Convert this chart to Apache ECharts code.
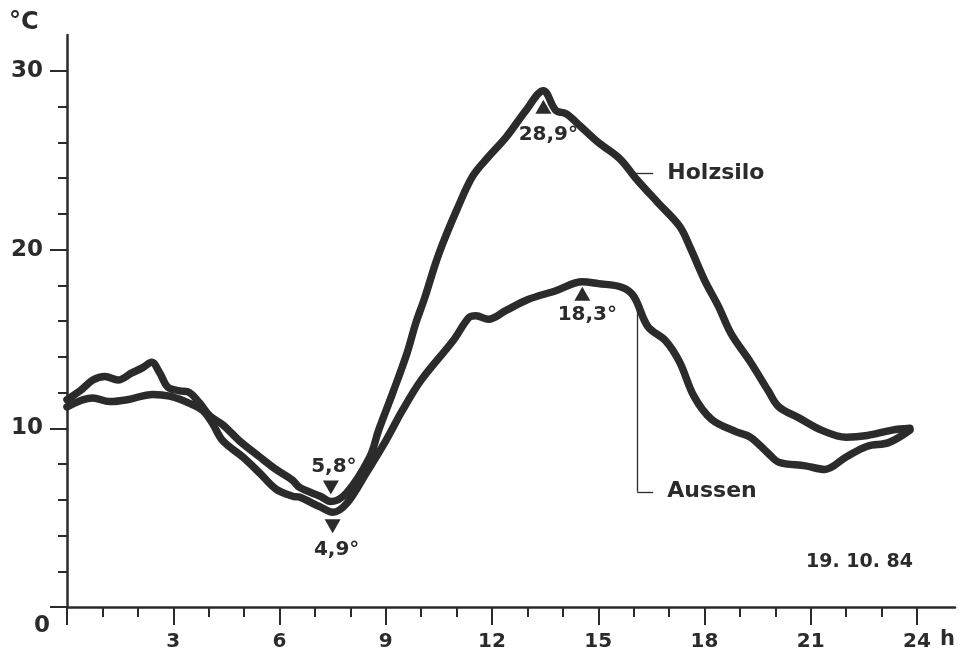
<!DOCTYPE html>
<html>
<head>
<meta charset="utf-8">
<script src="https://cdn.jsdelivr.net/npm/echarts@6/dist/echarts.min.js"></script>
<style>
html,body{margin:0;padding:0;background:#fff;}
#c{width:960px;height:653px;}
</style>
</head>
<body>
<div id="c"></div>
<script>
// ---- data (hours, °C) ----
const holzHours = [0.0,0.37,0.73,1.07,1.44,1.83,2.14,2.39,2.62,2.85,3.18,3.46,3.75,4.03,4.4,4.87,5.44,5.9,6.37,6.56,7.15,7.45,7.9,8.55,8.8,9.2,9.6,9.85,10.1,10.4,10.6,11.0,11.45,11.9,12.4,12.96,13.45,13.8,14.1,14.5,15.0,15.6,16.1,16.7,17.3,17.6,18.0,18.4,18.75,19.3,19.8,20.1,20.65,21.3,22.0,22.6,23.3,23.8];
const holzValues = [11.6,12.1,12.7,12.9,12.7,13.1,13.4,13.7,13.1,12.3,12.1,12.0,11.4,10.7,10.2,9.3,8.4,7.7,7.1,6.7,6.2,5.9,6.4,8.4,9.9,12.0,14.2,15.9,17.3,19.2,20.3,22.2,24.1,25.2,26.3,27.8,28.9,27.8,27.6,26.9,26.0,25.1,23.9,22.6,21.3,20.1,18.3,16.8,15.3,13.7,12.1,11.2,10.6,9.9,9.5,9.6,9.9,10.0];
const aussenHours = [0.0,0.73,1.2,1.7,2.42,2.9,3.46,3.83,4.1,4.4,4.96,5.44,5.9,6.37,6.56,7.15,7.5,7.9,8.45,9.0,9.47,10.0,10.9,11.35,11.55,11.9,12.4,13.0,13.8,14.55,15.0,15.66,16.0,16.4,16.9,17.3,17.7,18.2,18.9,19.3,19.8,20.1,20.85,21.4,22.0,22.6,23.2,23.8];
const aussenValues = [11.2,11.7,11.5,11.6,11.9,11.8,11.4,11.0,10.3,9.3,8.4,7.5,6.6,6.2,6.15,5.6,5.3,5.8,7.5,9.3,11.0,12.7,14.9,16.2,16.3,16.1,16.6,17.2,17.7,18.2,18.1,17.9,17.4,15.7,14.9,13.7,11.8,10.5,9.8,9.5,8.6,8.1,7.9,7.7,8.4,9.0,9.2,9.9];
const xTickLabels = [3,6,9,12,15,18,21,24];
const yTickLabels = [10,20,30];
// extreme-value annotations: [hour, value, text]
const holzMin = [7.45, 5.9, '5,8°'];
const holzMax = [13.45, 28.9, '28,9°'];
const aussenMin = [7.5, 5.3, '4,9°'];
const aussenMax = [14.55, 18.2, '18,3°'];
const seriesNames = ['Holzsilo', 'Aussen'];
const dateText = '19. 10. 84';

const INK = '#2b2b2b';
const FONT = '"DejaVu Sans", Verdana, sans-serif';
const zip = (a, b) => a.map((x, i) => [x, b[i]]);
const downTri = 'path://M0,0 L10,0 L5,9 Z';
const upTri = 'path://M5,0 L10,9 L0,9 Z';
const txt = (size) => ({fontFamily: FONT, fontWeight: 'bold', fontSize: size, color: INK});

function tri(pt, path, dy) {
  return {coord: [pt[0], pt[1]], symbol: path, symbolSize: [16, 14], symbolOffset: [0, dy],
          itemStyle: {color: INK}, label: {show: false}};
}
function lab(pt, text, dx, dy, align, size) {
  return {coord: [pt[0], pt[1]], symbol: 'circle', symbolSize: 0,
          label: Object.assign({show: true, position: 'inside', formatter: text, offset: [dx, dy], align: align || 'center'}, txt(size || 20))};
}

const chart = echarts.init(document.getElementById('c'), null, {renderer: 'canvas'});
const option = {
  animation: false,
  backgroundColor: '#fff',
  grid: [
    {left: 67, right: 43, top: 71, bottom: 46, outerBoundsMode: 'none'},
    {left: 67, right: 5, top: 35, bottom: 46, outerBoundsMode: 'none'}
  ],
  xAxis: [
    {type: 'value', gridIndex: 0, position: 'bottom', min: 0, max: 24, interval: 1,
     axisLine: {show: false, onZero: false}, splitLine: {show: false},
     axisTick: {show: true, length: 10, lineStyle: {color: INK, width: 2}},
     axisLabel: {show: false}},
    {type: 'value', gridIndex: 0, position: 'bottom', min: 0, max: 24, interval: 3,
     axisLine: {show: false, onZero: false}, splitLine: {show: false},
     axisTick: {show: true, length: 18, lineStyle: {color: INK, width: 2}},
     axisLabel: Object.assign({show: true, margin: 25,
       formatter: v => xTickLabels.indexOf(v) >= 0 ? String(v) : ''}, txt(20))},
    {type: 'value', gridIndex: 1, position: 'bottom', min: 0, max: 1,
     axisLine: {show: true, onZero: false, lineStyle: {color: INK, width: 2.5}},
     axisTick: {show: false}, axisLabel: {show: false}, splitLine: {show: false}}
  ],
  yAxis: [
    {type: 'value', gridIndex: 0, position: 'left', min: 0, max: 30, interval: 2,
     axisLine: {show: false, onZero: false}, splitLine: {show: false},
     axisTick: {show: true, length: 9, lineStyle: {color: INK, width: 2}},
     axisLabel: {show: false}},
    {type: 'value', gridIndex: 0, position: 'left', min: 0, max: 30, interval: 10,
     axisLine: {show: false, onZero: false}, splitLine: {show: false},
     axisTick: {show: true, length: 17, lineStyle: {color: INK, width: 2}},
     axisLabel: Object.assign({show: true, margin: 24,
       formatter: v => yTickLabels.indexOf(v) >= 0 ? String(v) : ''}, txt(23))},
    {type: 'value', gridIndex: 1, position: 'left', min: 0, max: 1,
     axisLine: {show: true, onZero: false, lineStyle: {color: INK, width: 2.5}},
     axisTick: {show: false}, axisLabel: {show: false}, splitLine: {show: false}}
  ],
  series: [
    {name: seriesNames[0], type: 'line', xAxisIndex: 0, yAxisIndex: 0,
     data: zip(holzHours, holzValues), smooth: 0.35, showSymbol: false, z: 3,
     lineStyle: {color: INK, width: 7.5, cap: 'round', join: 'round'},
     markPoint: {silent: true, animation: false, data: [
       tri(holzMin, downTri, -14), lab(holzMin, holzMin[2], 3, -35),
       tri(holzMax, upTri, 16), lab(holzMax, holzMax[2], 5, 44),
       lab([16.95, 24.3], seriesNames[0], 0, 0, 'left', 22)
     ]},
     markLine: {silent: true, animation: false, symbol: ['none', 'none'], label: {show: false},
       lineStyle: {color: INK, width: 1.3, type: 'solid'},
       data: [[{coord: [15.95, 24.3]}, {coord: [16.55, 24.3]}]]}
    },
    {name: seriesNames[1], type: 'line', xAxisIndex: 0, yAxisIndex: 0,
     data: zip(aussenHours, aussenValues), smooth: 0.35, showSymbol: false, z: 3,
     lineStyle: {color: INK, width: 7.5, cap: 'round', join: 'round'},
     markPoint: {silent: true, animation: false, data: [
       tri(aussenMin, downTri, 14), lab(aussenMin, aussenMin[2], 4, 37),
       tri(aussenMax, upTri, 12), lab(aussenMax, aussenMax[2], 5, 33),
       lab([16.95, 6.45], seriesNames[1], 0, 0, 'left', 22)
     ]},
     markLine: {silent: true, animation: false, symbol: ['none', 'none'], label: {show: false},
       lineStyle: {color: INK, width: 1.3, type: 'solid'},
       data: [[{coord: [16.1, 16.9]}, {coord: [16.1, 6.45]}],
              [{coord: [16.1, 6.45]}, {coord: [16.55, 6.45]}]]}
    }
  ],
  graphic: [
    {type: 'text', left: 9, top: 11, style: {text: '°C', font: 'bold 24px ' + FONT, fill: INK}},
    {type: 'text', left: 34, top: 615, style: {text: '0', font: 'bold 23px ' + FONT, fill: INK}},
    {type: 'text', left: 940, top: 629, style: {text: 'h', font: 'bold 21px ' + FONT, fill: INK}},
    {type: 'text', right: 47, top: 553, style: {text: dateText, font: 'bold 19px ' + FONT, fill: INK}}
  ]
};
chart.setOption(option);
</script>
</body>
</html>
